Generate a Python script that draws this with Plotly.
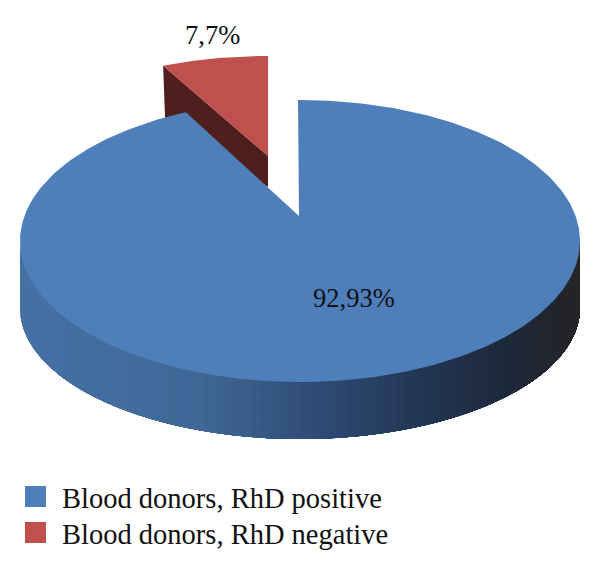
import numpy as np
import plotly.graph_objects as go

# Data
categories = ["Blood donors, RhD positive", "Blood donors, RhD negative"]
values = [92.93, 7.07]
value_labels = ["92,93%", "7,7%"]
top_colors = ["#4f7fbb", "#c0504d"]
wall_color = "#4f1f1d"

# Projection geometry of the tilted pie (pixel canvas)
W, H = 600, 571
CX, CY, RX, RY = 300, 241, 280, 141      # main slice ellipse
APEX = (299, 216)                        # apparent apex of the main slice
BOTTOM_CY, BOTTOM_RY = 308, 131          # lower rim ellipse
EX_CX, EX_CY, EX_RX, EX_RY = 268, 156, 244, 100  # exploded slice
EX_WALL_TIP, EX_WALL_APEX = 55, 31
GAP_FORESHORTEN = 0.945                  # perspective narrowing of the far gap

side_stops = [(20, (70, 113, 165)), (200, (64, 103, 150)), (300, (48, 80, 122)),
              (400, (36, 58, 90)), (500, (29, 41, 60)), (560, (34, 36, 42)), (580, (38, 38, 38))]

fig = go.Figure()


def poly(xs, ys, color, lw=0.0):
    fig.add_trace(go.Scatter(x=list(xs), y=list(ys), mode="lines", fill="toself",
                             fillcolor=color, line=dict(color=color, width=lw),
                             hoverinfo="skip", showlegend=False))


def side_color(x):
    xp = [s[0] for s in side_stops]
    c = [np.interp(x, xp, [s[1][i] for s in side_stops]) for i in range(3)]
    return "rgb(%d,%d,%d)" % tuple(int(round(v)) for v in c)


# Exploded (negative) slice: angular extent comes from its value
sweep_neg = 2 * np.pi * values[1] / sum(values)
t = np.linspace(-sweep_neg, 0, 40)
ex_x = EX_CX + EX_RX * np.sin(t)
ex_y = EX_CY - EX_RY * np.cos(t)
poly([ex_x[0], EX_CX, EX_CX, ex_x[0] + 2, ex_x[0]],
     [ex_y[0], EX_CY, EX_CY + EX_WALL_APEX, ex_y[0] + EX_WALL_TIP, ex_y[0]], wall_color)
poly(list(ex_x) + [EX_CX, ex_x[0]], list(ex_y) + [EX_CY, ex_y[0]], top_colors[1])

# Rim of the main slice: overlapping strips painted from left to right, so no seams
edges = np.linspace(np.pi / 2, 3 * np.pi / 2, 91)
for j in range(len(edges) - 1, 0, -1):
    s = np.linspace(np.pi / 2, edges[j], j * 2 + 2)
    xs = CX + RX * np.sin(s)
    top = CY - RY * np.cos(s)
    bot = BOTTOM_CY - BOTTOM_RY * np.cos(s)
    poly(list(xs) + list(xs[::-1]) + [xs[0]], list(top) + list(bot[::-1]) + [top[0]],
         side_color(CX + RX * np.sin((edges[j] + edges[j - 1]) / 2)))

# Main (positive) slice top face
t = np.linspace(0, 2 * np.pi - sweep_neg * GAP_FORESHORTEN, 400)
poly([APEX[0], CX - 2] + list(CX + RX * np.sin(t)) + [APEX[0]],
     [APEX[1], CY - RY] + list(CY - RY * np.cos(t)) + [APEX[1]], top_colors[0])

# Legend entries, one legend box per row
legend_names = ["legend", "legend2"]
for name, color, lg in zip(categories, top_colors, legend_names):
    fig.add_trace(go.Scatter(x=[None], y=[None], mode="markers", name=name, legend=lg,
                             marker=dict(symbol="square", size=16, color=color,
                                         line=dict(color=color, width=5))))

serif = "Liberation Serif"
fig.add_annotation(x=354, y=298, text=value_labels[0], showarrow=False,
                   font=dict(family=serif, size=26.5, color="#111"))
fig.add_annotation(x=212, y=35, text=value_labels[1], showarrow=False,
                   font=dict(family=serif, size=26.5, color="#111"))

legend_style = dict(xanchor="left", yanchor="middle", itemwidth=43,
                    font=dict(family=serif, size=28.5, color="#111"),
                    bgcolor="rgba(0,0,0,0)")
fig.update_layout(
    width=W, height=H, margin=dict(l=0, r=0, t=0, b=0),
    paper_bgcolor="white", plot_bgcolor="white",
    xaxis=dict(range=[0, W], visible=False, fixedrange=True),
    yaxis=dict(range=[H, 0], visible=False, fixedrange=True),
    showlegend=True,
    legend=dict(x=9 / W, y=1 - 497 / H, **legend_style),
    legend2=dict(x=9 / W, y=1 - 533 / H, **legend_style),
)
fig.write_html("out.html", config={"displayModeBar": False},
               post_script="document.body.style.margin='0';")
